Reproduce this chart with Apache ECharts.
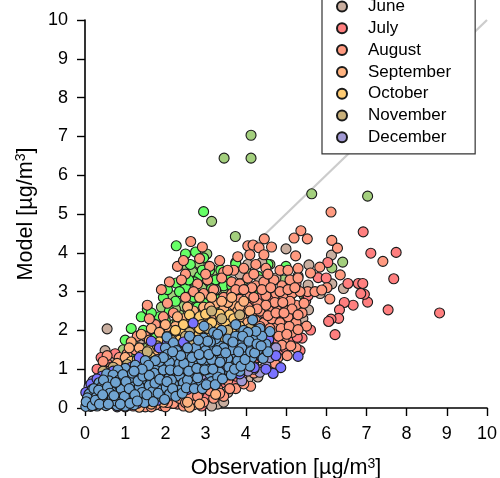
<!DOCTYPE html>
<html><head><meta charset="utf-8">
<script src="https://cdn.jsdelivr.net/npm/echarts@6/dist/echarts.min.js"></script>
<style>html,body{margin:0;padding:0;background:#fff}#c{width:500px;height:478px}</style>
</head><body><div id="c"></div>
<script>
const refLine=[[0,0],[10,10]];
const olive=[[4.13,7.03],[3.46,6.44],[4.13,6.44],[5.64,5.52],[7.03,5.46],[3.15,4.81],[3.74,4.42],[3.03,3.97],[6.41,3.76],[6.14,3.61],[2.84,3.72],[2.55,3.62],[2.68,3.5],[3.14,3.25],[2.4,3.15],[2.9,3.1],[2.62,2.98],[3.3,3.0],[2.15,2.9],[2.75,2.75],[3.5,3.05],[1.9,2.6],[2.45,2.62],[3.75,3.75],[4.0,3.55],[4.6,3.7],[4.95,3.3],[5.2,3.0],[5.45,2.9],[1.3,1.62],[1.55,1.55],[1.95,1.85],[2.2,2.15],[4.55,3.05],[3.2,3.55],[3.95,3.3],[2.9,2.45],[0.95,1.5],[1.7,2.0],[2.35,2.4],[3.05,3.3],[3.3,3.25],[2.78,3.3],[3.55,2.85],[3.7,3.0],[2.6,2.8],[3.0,2.85],[2.25,2.55],[1.25,1.45]];
const green=[[2.95,5.06],[2.27,4.18],[2.5,3.97],[2.75,4.02],[2.95,3.87],[3.75,3.72],[2.62,3.7],[2.85,3.4],[2.72,3.25],[3.1,3.55],[3.25,3.3],[3.55,3.3],[2.27,3.22],[2.5,3.1],[3.0,2.9],[3.45,3.15],[3.65,3.15],[3.85,3.05],[1.95,2.85],[2.25,2.75],[2.7,2.85],[2.95,2.7],[1.55,2.55],[1.85,2.35],[2.1,2.5],[2.3,2.2],[1.4,2.35],[1.15,2.05],[1.45,2.0],[4.3,2.9],[4.1,3.05],[3.4,2.55],[1.75,1.8],[5.0,3.65],[4.55,3.7],[1.0,1.75],[1.25,1.3],[1.7,2.1],[2.6,2.55],[3.2,2.85],[3.9,3.4],[4.3,3.4],[4.65,3.0],[2.05,2.05],[2.05,3.05],[2.35,3.0],[2.58,3.3],[2.92,3.55],[3.38,3.55],[2.8,2.6],[3.15,3.08],[3.35,2.8],[3.8,2.78],[1.65,2.45],[2.0,2.25]];
const tan=[[0.55,2.04],[5.0,4.1],[6.13,3.94],[5.57,3.69],[5.55,3.17],[6.43,3.08],[6.14,3.2],[5.56,2.53],[0.5,1.48],[4.05,3.7],[4.4,3.75],[3.85,3.45],[4.35,3.3],[4.75,3.35],[3.25,3.05],[5.1,3.2],[5.35,2.55],[4.6,2.75],[5.85,2.95],[5.42,2.3],[3.3,0.1],[3.45,0.15],[4.2,1.1],[4.3,0.8],[0.75,1.25],[1.4,1.78],[1.8,1.5],[2.8,2.4],[4.05,0.75],[5.1,2.9],[4.9,2.65],[3.55,0.4],[3.15,0.05],[3.7,2.8],[4.5,2.3],[5.3,3.4]];
const red=[[6.92,4.54],[7.11,3.99],[7.74,4.01],[7.68,3.33],[7.54,2.53],[8.82,2.45],[6.22,1.89],[7.03,2.73],[6.95,2.93],[6.86,2.95],[6.8,3.21],[6.91,3.21],[6.67,2.65],[6.45,2.72],[6.33,2.53],[6.31,2.31],[6.12,2.29],[6.06,2.23],[6.54,3.21],[6.04,3.75],[5.8,3.36],[6.0,3.35],[5.49,2.76],[5.61,2.01],[5.4,1.8],[5.35,1.48],[5.55,2.9],[5.2,2.5],[5.0,2.15],[4.95,1.95],[4.75,1.7],[5.1,1.75],[4.85,1.45],[4.45,2.45],[4.65,2.85],[4.2,2.65],[3.95,1.2],[0.3,1.0],[0.4,1.3],[0.55,1.15],[0.75,1.4],[0.95,1.15],[1.2,0.05],[1.55,0.12],[2.3,0.1],[2.75,0.2],[3.05,0.3],[3.4,0.65],[3.7,0.6],[4.55,1.1],[5.15,2.25],[4.4,1.5],[2.9,0.05],[2.15,0.22],[1.9,0.06],[3.55,0.95],[4.85,2.4],[5.25,3.2],[4.2,2.4],[4.55,2.15],[4.78,1.95],[5.28,1.82],[4.98,1.55],[4.62,1.42],[3.75,0.82],[3.25,0.42],[2.55,0.22],[4.3,1.3],[5.05,2.6],[4.35,2.85]];
const salmon=[[6.12,5.05],[7.41,3.78],[5.37,4.57],[5.2,4.38],[5.53,4.36],[6.14,4.32],[6.28,4.12],[5.24,3.92],[4.46,4.36],[4.64,4.15],[4.05,4.18],[4.18,4.2],[4.33,4.13],[5.84,3.63],[5.61,3.48],[6.35,3.43],[6.02,3.1],[5.54,3.0],[5.72,3.0],[5.89,3.04],[6.09,2.81],[2.63,4.29],[2.92,4.15],[2.5,3.45],[2.85,3.85],[2.3,3.65],[2.45,3.8],[3.1,3.65],[3.35,3.8],[3.8,3.9],[4.1,3.95],[4.45,3.95],[1.55,2.65],[1.9,3.05],[2.1,3.25],[2.4,3.3],[2.8,3.2],[3.05,3.3],[3.45,3.5],[3.7,3.55],[3.95,3.6],[4.25,3.7],[4.5,3.6],[4.85,3.55],[5.05,3.55],[5.3,3.6],[3.65,3.25],[3.85,3.2],[4.05,3.35],[4.25,3.15],[4.45,3.25],[4.7,3.3],[4.9,3.15],[5.1,3.3],[5.3,3.35],[3.45,2.85],[3.65,2.95],[3.85,2.8],[4.1,2.95],[4.3,2.7],[4.5,2.9],[4.75,2.95],[4.95,2.85],[5.15,2.95],[5.35,3.0],[3.9,2.55],[4.15,2.45],[4.35,2.5],[4.6,2.55],[4.8,2.6],[5.0,2.55],[5.25,2.65],[5.4,2.45],[4.25,2.25],[4.45,2.2],[4.65,2.3],[4.85,2.2],[5.05,2.35],[5.25,2.2],[5.51,2.11],[4.4,1.95],[4.7,2.05],[4.95,1.75],[5.15,1.95],[5.25,1.55],[4.6,1.6],[4.8,1.3],[5.03,1.35],[4.65,1.25],[4.4,1.0],[4.12,0.56],[3.9,0.8],[3.75,0.5],[3.45,0.3],[3.2,0.25],[2.95,0.15],[2.7,0.08],[2.45,0.05],[2.2,0.12],[2.0,0.03],[1.75,0.08],[1.5,0.03],[1.3,0.1],[2.6,0.3],[2.85,0.42],[3.1,0.45],[3.3,0.5],[3.55,0.7],[2.35,0.25],[0.55,1.35],[0.45,1.2],[0.85,1.3],[0.65,1.05],[1.05,1.4],[1.25,1.5],[1.5,1.85],[1.3,1.85],[1.75,2.15],[1.95,2.35],[2.2,2.45],[2.05,2.7],[2.5,2.85],[2.7,3.0],[2.95,2.95],[3.2,3.05],[3.4,3.35],[1.6,2.3],[3.0,3.45],[5.45,2.7],[3.55,3.55],[3.75,3.05],[5.1,2.75],[4.55,3.45],[4.2,3.45],[4.0,2.7],[4.2,2.85],[4.4,3.05],[4.62,3.1],[4.85,3.0],[5.05,3.05],[5.22,3.1],[4.15,3.1],[3.95,3.05],[4.72,2.72],[4.92,2.72],[5.15,2.55],[4.5,2.65],[4.28,2.55],[4.05,2.6],[4.55,2.38],[4.75,2.45],[4.95,2.45],[5.3,2.4],[4.35,2.1],[4.6,2.05],[4.88,2.05],[5.08,2.1],[5.3,2.02],[4.3,1.85],[4.55,1.85],[4.82,1.85],[5.02,1.9],[4.35,1.62],[4.7,1.55],[4.9,1.62],[5.12,1.6],[4.45,1.4],[4.72,1.15],[4.2,0.9],[3.95,0.62],[3.6,0.5],[3.35,0.38],[2.5,0.14],[1.65,0.03],[1.0,0.03],[2.05,0.14],[2.8,0.3]];
const orange=[[3.45,2.55],[3.7,2.65],[3.25,2.7],[2.95,2.6],[3.55,2.35],[3.9,2.35],[3.2,2.4],[2.7,2.5],[2.45,2.3],[3.0,2.3],[2.25,2.1],[2.75,2.2],[2.1,2.0],[1.9,1.65],[1.6,1.75],[1.35,1.55],[1.15,1.7],[1.0,1.3],[0.8,1.15],[1.45,1.25],[1.75,1.4],[0.6,0.95],[2.5,2.05],[3.3,2.2],[3.8,2.5],[4.05,2.2],[2.6,0.02],[1.95,0.15],[1.65,0.1],[2.85,0.1],[1.35,0.02],[2.55,0.15],[3.25,0.35],[1.1,1.55],[2.85,2.85],[3.15,2.85],[1.65,2.05],[3.55,2.72],[3.85,2.62],[3.1,2.6],[2.55,2.6],[2.3,2.35],[2.0,2.15],[1.85,1.95],[1.4,1.9],[3.4,2.75],[4.1,2.5],[3.65,2.85],[3.95,2.75]];
const yellow=[[2.2,1.9],[2.45,1.95],[2.65,2.3],[2.85,2.35],[3.05,2.15],[2.7,2.05],[2.95,1.95],[3.25,2.05],[3.5,2.2],[2.35,1.75],[2.55,1.8],[2.8,1.85],[3.1,1.9],[3.35,1.85],[3.65,2.05],[3.85,2.1],[2.1,1.6],[1.85,1.7],[2.05,1.85],[1.6,1.5],[1.4,1.35],[1.95,1.45],[3.6,2.4],[2.45,2.15],[1.15,1.2],[1.65,1.3],[2.9,2.15],[2.6,2.4],[3.0,2.42],[3.35,2.42],[3.7,2.3],[2.25,2.0],[2.85,2.05],[3.15,2.2]];
const gold=[[2.2,1.55],[2.5,1.6],[2.75,1.65],[3.0,1.75],[3.25,1.7],[3.5,1.9],[3.8,1.85],[3.4,2.3],[3.85,2.4],[3.15,2.5],[2.6,1.95],[2.9,1.75],[2.4,1.4],[2.0,1.3],[1.7,1.2],[1.45,1.1],[1.2,1.0],[2.35,1.6],[1.9,1.1],[0.45,0.95],[0.95,0.95],[1.55,1.45],[1.3,1.25],[4.1,2.05],[4.2,1.85],[4.35,1.7],[2.15,1.75],[3.6,1.75],[2.7,1.75],[3.05,2.05],[3.55,2.0],[2.95,1.62],[3.45,1.75],[2.5,1.85],[1.8,1.6],[1.05,1.12],[0.7,1.05]];
const mauve=[[4.35,0.92],[4.5,1.1],[4.2,1.0],[4.05,0.95],[3.85,1.05],[4.6,1.3],[3.65,1.0],[3.4,0.85],[3.2,0.8],[2.95,0.75],[2.7,0.6],[2.45,0.55],[2.2,0.45],[1.95,0.4],[1.7,0.3],[1.45,0.22],[1.2,0.18],[3.9,0.7],[0.95,0.9],[1.4,1.05],[1.8,1.25],[2.3,1.5],[4.75,1.55],[0.1,0.55],[0.2,0.7]];
const violet=[[2.69,2.19],[1.65,1.72],[1.85,1.55],[1.35,1.3],[2.05,1.7],[2.45,1.7],[1.15,1.05],[0.7,0.95],[0.42,0.82],[0.15,0.62],[4.87,1.04],[4.68,0.89],[4.5,1.0],[4.21,1.04],[5.3,1.33],[4.57,1.76],[4.4,1.3],[4.1,1.45],[3.85,0.88],[3.6,0.85],[3.3,0.7],[3.05,0.65],[2.8,0.72],[2.55,0.48],[2.3,0.35],[2.05,0.3],[1.8,0.2],[1.55,0.18],[1.3,0.12],[1.05,0.06],[0.8,0.03],[3.45,1.05],[4.75,1.35],[0.02,0.4],[0.3,0.75],[4.05,1.15]];
const steel=[[4.17,2.27],[4.6,1.97],[4.43,1.28],[2.96,2.11],[2.04,1.83],[2.2,1.68],[2.6,1.85],[3.4,2.0],[3.75,2.15],[3.95,2.0],[4.35,2.05],[4.2,1.75],[4.5,1.65],[3.2,1.95],[2.85,1.6],[3.1,1.55],[3.35,1.6],[3.6,1.6],[3.85,1.7],[4.05,1.6],[4.3,1.5],[4.15,1.3],[3.95,1.4],[3.7,1.35],[3.45,1.4],[3.2,1.35],[2.95,1.35],[2.7,1.45],[2.45,1.25],[2.2,1.3],[2.0,1.55],[1.75,1.05],[1.5,1.22],[1.25,1.1],[1.0,1.02],[0.82,0.98],[0.54,0.88],[0.7,0.85],[0.35,0.65],[0.18,0.48],[4.0,1.15],[3.75,1.1],[3.5,1.15],[3.25,1.1],[3.0,1.12],[2.75,1.2],[2.5,1.02],[2.25,1.05],[2.0,1.08],[1.8,0.85],[1.55,0.95],[1.3,0.88],[1.05,0.82],[0.85,0.72],[0.6,0.7],[0.42,0.55],[0.25,0.36],[3.85,0.95],[3.6,0.92],[3.35,0.92],[3.1,0.88],[2.85,0.92],[2.6,0.82],[2.35,0.82],[2.1,0.85],[1.9,0.65],[1.65,0.72],[1.4,0.7],[1.15,0.62],[0.95,0.6],[0.72,0.52],[0.5,0.42],[0.32,0.22],[0.12,0.28],[3.15,0.68],[2.9,0.62],[2.65,0.6],[2.45,0.65],[2.2,0.62],[2.0,0.5],[1.78,0.52],[1.52,0.48],[1.28,0.42],[1.05,0.4],[0.82,0.35],[0.6,0.28],[0.42,0.14],[0.2,0.15],[0.05,0.1],[2.35,0.45],[2.1,0.36],[1.88,0.3],[1.62,0.28],[1.38,0.25],[1.15,0.22],[0.92,0.18],[0.7,0.12],[0.52,0.06],[0.3,0.05],[0.14,0.04],[1.0,0.05],[0.8,0.06],[1.22,0.08],[0.62,0.16],[0.38,0.33],[0.9,0.48],[1.12,0.78],[1.35,0.56],[1.6,0.58],[1.72,0.9],[1.95,0.98],[2.15,0.72],[2.55,0.72],[2.8,0.78],[3.05,1.0],[3.3,0.8],[3.55,1.28],[3.8,1.22],[4.1,1.08],[2.35,1.15],[2.6,1.12],[2.9,1.25],[3.15,1.25],[3.4,1.25],[2.1,1.18],[1.85,1.2],[3.65,1.5],[3.45,1.55],[3.0,1.48],[2.75,1.55],[2.5,1.4],[2.28,1.48],[2.05,1.38],[3.9,1.55],[3.55,1.78],[3.25,1.78],[3.75,1.85],[2.95,1.8],[4.0,1.85],[0.08,0.18],[0.24,0.08],[0.48,0.24],[0.66,0.42],[0.86,0.26],[1.08,0.3],[1.42,0.4],[1.68,0.42],[4.4,1.85],[4.25,1.98],[4.55,1.45],[4.05,1.95],[0.1,0.36],[0.16,0.22],[0.22,0.5],[0.28,0.28],[0.34,0.46],[0.4,0.24],[0.46,0.72],[0.56,0.54],[0.62,0.38],[0.68,0.24],[0.76,0.66],[0.78,0.18],[0.94,0.86],[0.98,0.3],[1.02,0.68],[1.1,0.5],[1.18,0.9],[1.24,0.34],[1.32,0.7],[1.44,0.82],[1.48,0.14],[1.54,0.34],[1.6,0.84],[1.7,0.16],[1.74,0.64],[1.82,0.38],[1.86,0.74],[1.98,0.22],[2.04,0.68],[2.12,0.98],[2.18,0.5],[2.26,0.3],[2.32,0.96],[2.42,0.38],[2.46,1.15],[2.52,0.52],[2.58,0.95],[2.66,1.3],[2.72,0.5],[2.78,1.02],[2.84,1.38],[2.92,0.5],[2.98,0.98],[3.02,0.6],[3.08,1.38],[3.12,1.7],[3.18,1.0],[3.24,0.6],[3.28,1.48],[3.36,1.18],[3.42,0.75],[3.5,1.42],[3.58,1.05],[3.64,0.85],[3.68,1.7],[3.72,1.0],[3.82,1.45],[3.88,1.08],[3.92,1.85],[3.98,1.25],[4.08,1.72],[4.12,1.45],[4.22,1.42],[4.28,1.65],[4.38,1.6],[3.3,1.9],[3.05,1.72],[2.82,1.75],[2.55,1.55],[2.38,1.35],[2.18,1.45],[1.95,1.3],[1.75,1.22],[1.58,1.1],[1.42,1.0],[1.22,0.95],[0.02,0.04],[0.06,0.26],[0.03,0.16],[0.18,0.06],[0.26,0.2],[0.36,0.1],[0.44,0.34],[0.58,0.1],[0.72,0.32],[0.88,0.1],[1.12,0.12],[1.3,0.18]];
const seriesSpec=[
 ['May',olive,'#a3cf7d'],['April',green,'#66ff66'],['June',tan,'#c9ae9f'],['July',red,'#ff7f7f'],
 ['August',salmon,'#ff9a80'],['September',orange,'#ffb380'],['October',yellow,'#ffcc73'],
 ['November',gold,'#c9b07a'],['December',mauve,'#a199d3'],['February',violet,'#7a72ff'],['January',steel,'#70a4d2']];
const legendItems=['June','July','August','September','October','November','December'];
const chart=echarts.init(document.getElementById('c'),null,{renderer:'canvas'});
const font='"Liberation Sans",Arial,sans-serif';
const nameRich={a:{fontFamily:font,fontSize:21.6,color:'#000'},s:{fontFamily:font,fontSize:14,color:'#000',verticalAlign:'bottom',padding:[0,0,9,0]}};
const axis=(name,gap,margin)=>({type:'value',min:0,max:10,interval:1,name:name,nameLocation:'middle',nameGap:gap,
 nameTextStyle:{rich:nameRich},splitLine:{show:false},
 axisLine:{show:true,onZero:false,lineStyle:{color:'#000',width:1.6}},
 axisTick:{length:8,lineStyle:{color:'#000',width:1.4}},
 axisLabel:{color:'#000',fontFamily:font,fontSize:18,margin:margin,showMinLabel:true,showMaxLabel:true}});
chart.setOption({animation:false,backgroundColor:'#fff',
 grid:{left:85,right:13,top:20,bottom:70,outerBoundsMode:'none'},
 xAxis:axis('{a|Observation [µg/m}{s|3}{a|]}',49,17),
 yAxis:axis('{a|Model [µg/m}{s|3}{a|]}',46,17),
 legend:{data:legendItems,orient:'vertical',left:322,top:-10,padding:[8,24,8,14],itemGap:4.8,itemWidth:14,itemHeight:10,
  backgroundColor:'#fff',borderColor:'#333',borderWidth:1.2,icon:'circle',
  selectedMode:false,textStyle:{fontFamily:font,fontSize:17,color:'#000',padding:[0,0,0,14],height:15,lineHeight:15},z:20},
 series:[{type:'line',data:refLine,symbol:'none',silent:true,z:1,lineStyle:{color:'#cccccc',width:2.2}}].concat(
  seriesSpec.map(([n,d,c],i)=>({type:'scatter',name:n,data:d,symbol:'circle',symbolSize:10,clip:false,z:2+i,
   itemStyle:{color:c,opacity:1,borderColor:'#1a1a1a',borderWidth:1.1}})))
});
</script></body></html>
